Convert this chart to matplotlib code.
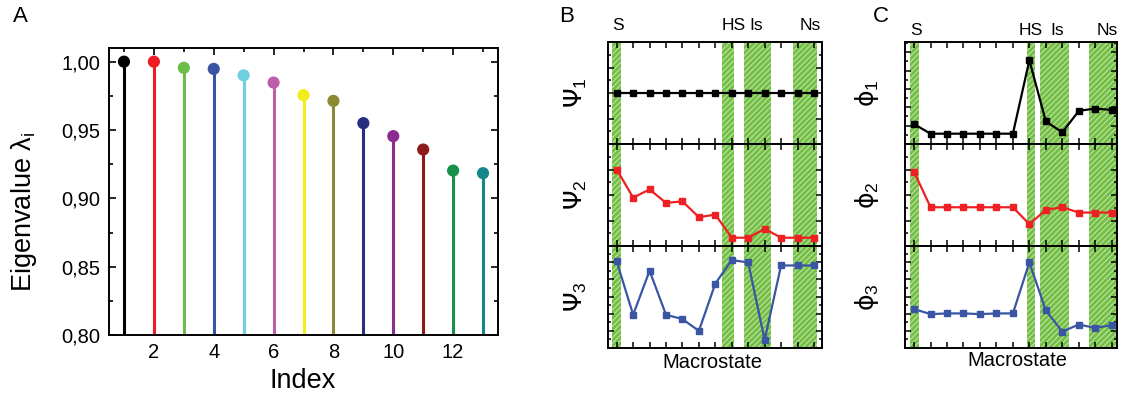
import numpy as np
import matplotlib
matplotlib.use('Agg')
import matplotlib.pyplot as plt
from matplotlib.ticker import MultipleLocator, FuncFormatter, NullFormatter, AutoMinorLocator

plt.rcParams['font.family'] = ['Liberation Sans', 'DejaVu Sans']
plt.rcParams['mathtext.fontset'] = 'custom'
plt.rcParams['mathtext.rm'] = 'Liberation Sans'
plt.rcParams['mathtext.it'] = 'Liberation Sans'
plt.rcParams['hatch.linewidth'] = 0.8

# panel A: eigenvalues
index = np.arange(1, 14)
eigen = [1.000, 1.000, 0.9955, 0.9947, 0.990, 0.9847, 0.9755, 0.9713,
         0.955, 0.9455, 0.9357, 0.9203, 0.9184]
eig_colors = ['#000000', '#ee1c24', '#6cbd45', '#3a53a4', '#6dcfe0', '#c05da8',
              '#f2ec1b', '#8a8a35', '#2b2e7f', '#8b2c8e', '#8e1a1b', '#16904a', '#15878b']

# panels B and C: eigenvectors over 13 macrostates (arbitrary units, 0..1 of panel height)
macro = np.arange(1, 14)
psi1 = [0.50] * 13
psi2 = [0.75, 0.474, 0.555, 0.422, 0.438, 0.282, 0.308, 0.081, 0.081, 0.169, 0.081, 0.081, 0.081]
psi3 = [0.849, 0.326, 0.757, 0.326, 0.283, 0.168, 0.632, 0.862, 0.839, 0.079, 0.809, 0.809, 0.809]
phi1 = [0.195, 0.101, 0.101, 0.101, 0.101, 0.101, 0.101, 0.821, 0.221, 0.114, 0.325, 0.347, 0.334]
phi2 = [0.727, 0.380, 0.380, 0.380, 0.380, 0.380, 0.380, 0.214, 0.354, 0.380, 0.328, 0.328, 0.328]
phi3 = [0.382, 0.332, 0.339, 0.339, 0.332, 0.339, 0.339, 0.839, 0.368, 0.161, 0.230, 0.197, 0.224]
line_colors = ['#000000', '#ed2024', '#3b55a5']

state_names = ['S', 'HS', 'Is', 'Ns']
bands_B = [(0.74, 1.26), (7.43, 8.16), (8.73, 10.37), (11.71, 13.17)]
bands_C = [(0.76, 1.32), (7.84, 8.35), (8.65, 10.43), (11.65, 13.31)]
label_x_B = [1.1, 8.1, 9.5, 12.75]
label_x_C = [1.1, 8.1, 9.7, 12.75]

W, H = 1122, 396
fig = plt.figure(figsize=(W / 100, H / 100), dpi=100)

def px(l, t, r, b):
    return [l / W, 1 - b / H, (r - l) / W, (b - t) / H]

# ---- A ----
ax = fig.add_axes(px(109, 48, 498, 335))
ax.vlines(index, 0.80, eigen, colors=eig_colors, lw=2.2, zorder=2)
ax.scatter(index, eigen, c=eig_colors, s=60, zorder=3, clip_on=False)
ax.set_xlim(0.5, 13.5)
ax.set_ylim(0.80, 1.01)
ax.xaxis.set_major_locator(MultipleLocator(2))
ax.xaxis.set_minor_locator(MultipleLocator(1))
ax.yaxis.set_major_locator(MultipleLocator(0.05))
ax.yaxis.set_minor_locator(MultipleLocator(0.025))
ax.yaxis.set_major_formatter(FuncFormatter(lambda v, p: ('%.2f' % v).replace('.', ',')))
ax.tick_params(which='both', direction='in', top=True, right=True, labelsize=14.5, width=1.2)
ax.tick_params(which='major', length=5, pad=6)
ax.tick_params(which='minor', length=3)
for s in ax.spines.values():
    s.set_linewidth(1.4)
fig.text(24 / W, 1 - 212 / H, 'Eigenvalue λ$_{\\mathregular{i}}$', rotation=90,
         ha='center', va='center', fontsize=19.5)
fig.text(303 / W, 1 - 381 / H, 'Index', ha='center', va='center', fontsize=19.5)
fig.text(20 / W, 1 - 16 / H, 'A', ha='center', va='center', fontsize=16)

# ---- B and C ----
def stack(left, right, series, names, bands, label_x, xlim, label_y, name_x, tick_steps):
    axes = []
    top, bottom = 42, 348
    h = (bottom - top) / 3
    for k in range(3):
        a = fig.add_axes(px(left, top + k * h, right, top + (k + 1) * h))
        for lo, hi in bands:
            a.axvspan(lo, hi, facecolor='#72bf44', edgecolor='#bfe2a6', hatch='//////',
                      lw=0, zorder=0)
        a.plot(macro, series[k], color=line_colors[k], lw=1.6, marker='s', ms=4, zorder=3)
        a.set_xlim(*xlim)
        a.set_ylim(0, 1)
        a.xaxis.set_major_locator(MultipleLocator(1))
        a.yaxis.set_major_locator(MultipleLocator(tick_steps[k]))
        a.yaxis.set_minor_locator(AutoMinorLocator(2))
        a.xaxis.set_major_formatter(NullFormatter())
        a.yaxis.set_major_formatter(NullFormatter())
        a.tick_params(which='both', direction='in', top=True, right=True, width=1.1)
        a.tick_params(which='major', length=4)
        a.tick_params(which='minor', length=2.5)
        for s in a.spines.values():
            s.set_linewidth(1.4)
        a.text(name_x, 0.5, names[k], transform=a.transAxes, rotation=90,
               ha='center', va='center', fontsize=18, family=['DejaVu Sans'])
        axes.append(a)
    for name, x in zip(state_names, label_x):
        axes[0].text(x, 1.0 + label_y, name, transform=axes[0].get_xaxis_transform(),
                     ha='center', va='center', fontsize=12.5)
    return axes

stack(608, 822, [psi1, psi2, psi3], ['Ψ$_1$', 'Ψ$_2$', 'Ψ$_3$'],
      bands_B, label_x_B, (0.47, 13.49), 0.16, -0.15, [0.25, 0.25, 0.168])
stack(905, 1117, [phi1, phi2, phi3], ['ϕ$_1$', 'ϕ$_2$', 'ϕ$_3$'],
      bands_C, label_x_C, (0.45, 13.32), 0.11, -0.18, [0.18, 0.25, 0.168])

fig.text(712 / W, 1 - 363 / H, 'Macrostate', ha='center', va='center', fontsize=14.5)
fig.text(1017 / W, 1 - 361 / H, 'Macrostate', ha='center', va='center', fontsize=14.5)
fig.text(567 / W, 1 - 16 / H, 'B', ha='center', va='center', fontsize=16)
fig.text(881 / W, 1 - 16 / H, 'C', ha='center', va='center', fontsize=16)

fig.savefig('out.png', dpi=100)
